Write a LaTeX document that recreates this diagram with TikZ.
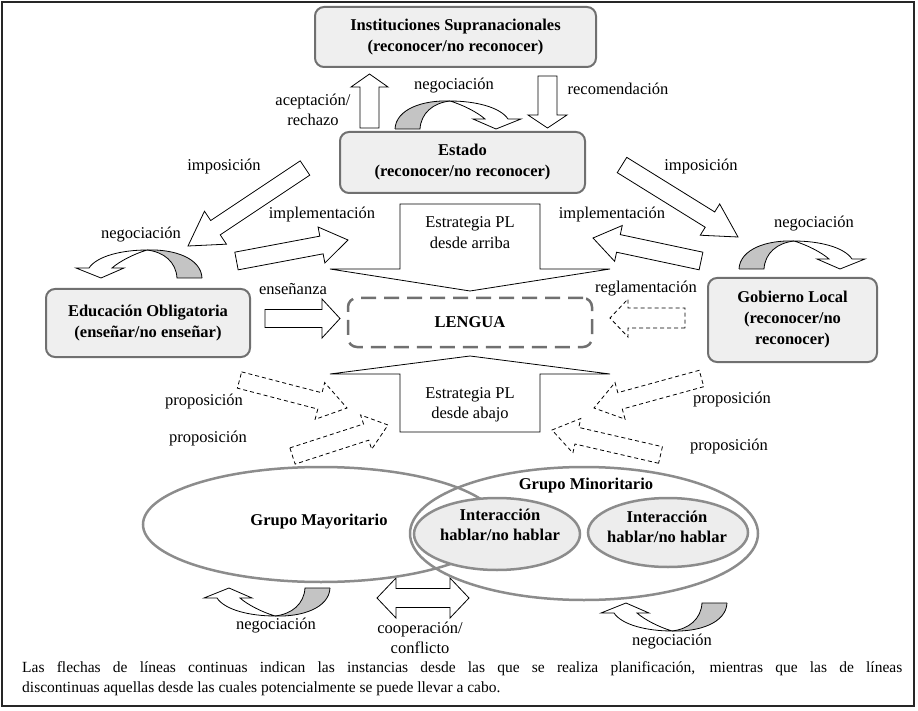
\documentclass[tikz,border=0pt]{standalone}
\usepackage{fontspec}
\setmainfont{Liberation Serif}
\usetikzlibrary{calc,shapes.geometric}
\definecolor{boxfill}{HTML}{EFEFEF}
\definecolor{boxline}{HTML}{707070}
\definecolor{bandgray}{HTML}{C4C4C4}
\definecolor{ellline}{HTML}{8C8C8C}
\definecolor{ellfill}{HTML}{EDEDED}

\newcommand{\blockarrow}[6][]{%
  \coordinate (ba-b) at ($(#3)!#6!(#2)$);
  \draw[#1] ($(#2)!#4!90:(#3)$) -- ($(ba-b)!#4!90:(#3)$) -- ($(ba-b)!#5!90:(#3)$) -- (#3)
        -- ($(ba-b)!#5!-90:(#3)$) -- ($(ba-b)!#4!-90:(#3)$) -- ($(#2)!#4!-90:(#3)$) -- cycle;
}

\tikzset{
  lbl/.style={font=\fontsize{16.5}{20.5}\selectfont, inner sep=0pt, align=center},
  blbl/.style={font=\fontsize{16.5}{20.5}\selectfont\bfseries, inner sep=0pt, align=center},
  gbox/.style={draw=boxline, line width=2pt, fill=boxfill, rounded corners=9pt, inner sep=0pt,
    align=center, font=\fontsize{16.5}{21}\selectfont\bfseries},
  solidarrow/.style={draw=black, line width=0.8pt, fill=white, line join=miter},
  dasharrow/.style={draw=black, line width=0.8pt, dash pattern=on 4pt off 3pt, fill=white},
  ell/.style={ellipse, draw=ellline, line width=2.5pt, inner sep=0pt},
  negarrow/.pic={
    \fill[bandgray] (0,0) .. controls (1,-20) and (28,-29) .. (55,-28)
        .. controls (38,-26) and (26,-16) .. (25,0) -- cycle;
    \draw[line width=0.8pt, line join=miter] (0,0) .. controls (1,-20) and (28,-29) .. (55,-28)
        .. controls (80,-28) and (105,-22) .. (113,-10) -- (126,-10) -- (101,0) -- (78,-10) -- (90,-10)
        .. controls (82,-17) and (68,-24) .. (55,-28);
    \draw[line width=0.8pt] (0,0) -- (25,0) .. controls (26,-16) and (38,-26) .. (55,-28);
  }
}

\begin{document}
\begin{tikzpicture}[x=1pt,y=-1pt]
\useasboundingbox (0,0) rectangle (918,711);
\draw[line width=1.3pt, draw=black!85] (2,2) rectangle (914,706);

% boxes
\node[gbox, minimum width=281pt, minimum height=60pt] (supra) at (455.5,37) {Instituciones Supranacionales\\(reconocer/no reconocer)};
\node[gbox, minimum width=245pt, minimum height=61pt] (estado) at (462.5,162.5) {Estado\\(reconocer/no reconocer)};
\node[gbox, minimum width=204pt, minimum height=68pt] (edu) at (148,323) {Educación Obligatoria\\(enseñar/no enseñar)};
\node[gbox, minimum width=169pt, minimum height=84pt] (gob) at (792.5,320) {Gobierno Local\\(reconocer/no\\reconocer)};
\node[draw=boxline, line width=2.5pt, dash pattern=on 15pt off 8pt, rounded corners=9pt,
  minimum width=244pt, minimum height=49pt, inner sep=0pt, font=\fontsize{16.5}{20}\selectfont\bfseries] (lengua) at (470,322.5) {LENGUA};

% coordinates for block arrows
\coordinate (acc-s) at (369.5,128);  \coordinate (acc-e) at (369.5,74);
\coordinate (rec-s) at (547.5,76);   \coordinate (rec-e) at (547.5,128);
\coordinate (impl-s) at (305,168);   \coordinate (impl-e) at (188,246);
\coordinate (impr-s) at (622,165);   \coordinate (impr-e) at (738,237);
\coordinate (imll-s) at (236.5,261); \coordinate (imll-e) at (348,240);
\coordinate (imlr-s) at (701,261);   \coordinate (imlr-e) at (593,238);
\coordinate (ens-s) at (265,318.5);  \coordinate (ens-e) at (340,318.5);
\coordinate (reg-s) at (685,318);    \coordinate (reg-e) at (610,318);
\coordinate (plu-s) at (239.5,380);  \coordinate (plu-e) at (347,408);
\coordinate (pll-s) at (292.5,456);  \coordinate (pll-e) at (388,425);
\coordinate (pru-s) at (701.5,378.5);\coordinate (pru-e) at (594,408);
\coordinate (prl-s) at (660.5,455);  \coordinate (prl-e) at (552,430);
\coordinate (arr-s) at (470,204);    \coordinate (arr-e) at (470,291);
\coordinate (aba-s) at (470,432);    \coordinate (aba-e) at (470,356);

\blockarrow[solidarrow]{acc-s}{acc-e}{9.5pt}{18.5pt}{13pt}
\blockarrow[solidarrow]{rec-s}{rec-e}{9.5pt}{19.5pt}{13pt}
\blockarrow[solidarrow]{impl-s}{impl-e}{8.6pt}{19.8pt}{33pt}
\blockarrow[solidarrow]{impr-s}{impr-e}{9pt}{18.4pt}{33pt}
\blockarrow[solidarrow]{imll-s}{imll-e}{9pt}{18.3pt}{27pt}
\blockarrow[solidarrow]{imlr-s}{imlr-e}{9pt}{18.3pt}{26pt}
\blockarrow[solidarrow]{ens-s}{ens-e}{9pt}{19.5pt}{18pt}
\blockarrow[dasharrow]{reg-s}{reg-e}{10pt}{19pt}{18pt}
\blockarrow[dasharrow]{plu-s}{plu-e}{8.4pt}{19pt}{28pt}
\blockarrow[dasharrow]{pll-s}{pll-e}{8.5pt}{18pt}{23pt}
\blockarrow[dasharrow]{pru-s}{pru-e}{8.5pt}{19pt}{27pt}
\blockarrow[dasharrow]{prl-s}{prl-e}{8.5pt}{17.7pt}{25.5pt}
\blockarrow[solidarrow]{arr-s}{arr-e}{70pt}{140pt}{22pt}
\blockarrow[solidarrow]{aba-s}{aba-e}{70pt}{140pt}{18pt}

% double arrow cooperacion
\coordinate (coop-l) at (377,598); \coordinate (coop-r) at (469,598);
\draw[solidarrow] (coop-l) -- ($(coop-l)+(19,-20)$) -- ($(coop-l)+(19,-9.5)$) -- ($(coop-r)+(-19,-9.5)$)
  -- ($(coop-r)+(-19,-20)$) -- (coop-r) -- ($(coop-r)+(-19,20)$) -- ($(coop-r)+(-19,9.5)$)
  -- ($(coop-l)+(19,9.5)$) -- ($(coop-l)+(19,20)$) -- cycle;

% negotiation curved arrows
\pic at (395,129) {negarrow};
\pic[xscale=-1] at (202,278) {negarrow};
\pic at (739,269) {negarrow};
\pic[xscale=-1,yscale=-1] at (330,588) {negarrow};
\pic[xscale=-1,yscale=-1] at (727,603) {negarrow};

% ellipses
\node[ell, minimum width=356pt, minimum height=115pt] (mayor) at (321,524.5) {};
\node[ell, minimum width=348pt, minimum height=133pt] (minor) at (584,533.5) {};
\node[ell, fill=ellfill, minimum width=166pt, minimum height=72pt] (int1) at (497,534) {};
\node[ell, fill=ellfill, minimum width=160pt, minimum height=69pt] (int2) at (668,532.5) {};

% labels
\node[lbl] (t-acc) at (313,110) {aceptación/\\rechazo};
\node[lbl] (t-negtop) at (454,86) {negociación};
\node[lbl] (t-rec) at (618,89) {recomendación};
\node[lbl] (t-impl) at (224,167) {imposición};
\node[lbl] (t-impr) at (701,167) {imposición};
\node[lbl] (t-negl) at (141,235) {negociación};
\node[lbl] (t-negr) at (814,224) {negociación};
\node[lbl] (t-imll) at (322,215) {implementación};
\node[lbl] (t-imlr) at (612,215) {implementación};
\node[lbl] (t-ens) at (293,289) {enseñanza};
\node[lbl] (t-reg) at (646,289) {reglamentación};
\node[lbl] (t-arr) at (470,232.5) {Estrategia PL\\desde arriba};
\node[lbl] (t-aba) at (470,405) {Estrategia PL\\desde abajo};
\node[lbl] (t-plu) at (204,402) {proposición};
\node[lbl] (t-pll) at (208,439) {proposición};
\node[lbl] (t-pru) at (732,400) {proposición};
\node[lbl] (t-prl) at (729,447) {proposición};
\node[blbl] (t-mayor) at (319,522) {Grupo Mayoritario};
\node[blbl] (t-minor) at (586,486) {Grupo Minoritario};
\node[blbl] (t-int1) at (500,525) {Interacción\\hablar/no hablar};
\node[blbl] (t-int2) at (667,527) {Interacción\\hablar/no hablar};
\node[lbl] (t-negbl) at (276,626) {negociación};
\node[lbl] (t-negbr) at (672,642) {negociación};
\node[lbl] (t-coop) at (420,638) {cooperación/\\conflicto};

% caption
\node[anchor=west, inner sep=0pt, font=\fontsize{15.5}{19}\selectfont] (cap1) at (22,669)
  {\makebox[880pt][s]{Las flechas de líneas continuas indican las instancias desde las que se realiza planificación, mientras que las de líneas}};
\node[anchor=west, inner sep=0pt, font=\fontsize{15.5}{19}\selectfont] (cap2) at (22,689)
  {discontinuas aquellas desde las cuales potencialmente se puede llevar a cabo.};
\end{tikzpicture}
\end{document}
